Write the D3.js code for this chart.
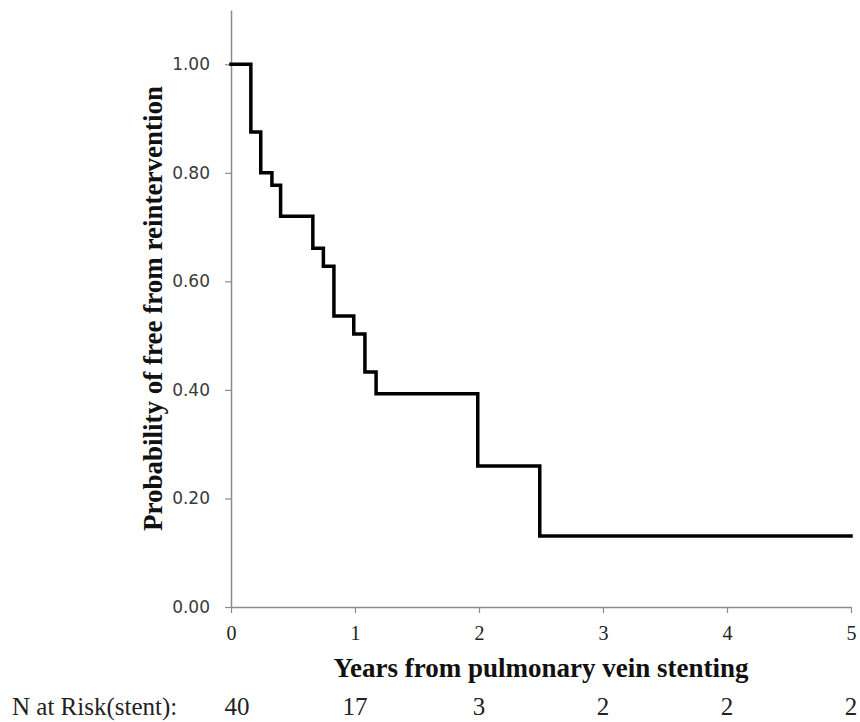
<!DOCTYPE html>
<html>
<head>
<meta charset="utf-8">
<script src="https://cdn.jsdelivr.net/npm/d3@7/dist/d3.min.js"></script>
<style>
  html, body { margin: 0; padding: 0; background: #fff; }
  svg { display: block; }
</style>
</head>
<body>
<svg id="chart" width="860" height="722"></svg>
<script>
// Kaplan-Meier step data (time in years, survival probability)
const stepTimes = [0, 0.16, 0.24, 0.33, 0.40, 0.66, 0.745, 0.83, 0.99, 1.08, 1.17, 1.99, 2.49, 5];
const stepValues = [1.00, 0.875, 0.80, 0.777, 0.72, 0.661, 0.628, 0.536, 0.503, 0.433, 0.393, 0.260, 0.131, 0.131];
const xTicks = [0, 1, 2, 3, 4, 5];
const yTicks = [0, 0.2, 0.4, 0.6, 0.8, 1.0];
const atRiskTimes = [0, 1, 2, 3, 4, 5];
const atRiskCounts = [40, 17, 3, 2, 2, 2];
const xTitle = "Years from pulmonary vein stenting";
const yTitle = "Probability of free from reintervention";
const atRiskLabel = "N at Risk(stent):";

const SERIF = "Liberation Serif";
const svg = d3.select("#chart");
const x = d3.scaleLinear().domain([0, 5]).range([231, 851]);
const y = d3.scaleLinear().domain([0, 1.1]).range([607, 10]);

const axisColor = "#8c8c8c";

// Y axis
const yAxis = svg.append("g").attr("transform", `translate(${x(0)},0)`)
  .call(d3.axisLeft(y).tickValues(yTicks).tickSize(6).tickSizeOuter(0).tickFormat(d3.format(".2f")));
yAxis.attr("font-family", "DejaVu Sans").attr("font-size", 17);
yAxis.select(".domain").attr("stroke", axisColor).attr("stroke-width", 1.5);
yAxis.selectAll(".tick line").attr("stroke", axisColor).attr("stroke-width", 1.2);
yAxis.selectAll(".tick text")
  .attr("x", -21)
  .attr("fill", "#3a3a3a");

// X axis
const xAxis = svg.append("g").attr("transform", `translate(0,${y(0)})`)
  .call(d3.axisBottom(x).tickValues(xTicks).tickSize(6).tickSizeOuter(0).tickFormat(d3.format("d")));
xAxis.attr("font-family", SERIF).attr("font-size", 20);
xAxis.select(".domain").attr("stroke", axisColor).attr("stroke-width", 1.5);
xAxis.selectAll(".tick line").attr("stroke", axisColor).attr("stroke-width", 1.2);
xAxis.selectAll(".tick text")
  .attr("y", 19)
  .attr("fill", "#222");

// Step line
const pts = stepTimes.map((t, i) => [t, stepValues[i]]);
const line = d3.line().x(d => x(d[0])).y(d => y(d[1])).curve(d3.curveStepAfter);
svg.append("path")
  .datum(pts)
  .attr("d", line)
  .attr("fill", "none")
  .attr("stroke", "#000")
  .attr("stroke-width", 3.5)
  .attr("stroke-linejoin", "miter")
  .attr("stroke-linecap", "square");

// Axis titles
svg.append("text")
  .attr("x", (x(0) + x(5)) / 2)
  .attr("y", 677)
  .attr("text-anchor", "middle")
  .attr("font-family", SERIF)
  .attr("font-weight", "bold")
  .attr("font-size", 27)
  .attr("fill", "#111")
  .text(xTitle);

svg.append("text")
  .attr("transform", `translate(162,${(y(0) + y(1.1)) / 2}) rotate(-90)`)
  .attr("text-anchor", "middle")
  .attr("font-family", SERIF)
  .attr("font-weight", "bold")
  .attr("font-size", 27)
  .attr("fill", "#111")
  .text(yTitle);

// Number at risk row
const risk = svg.append("g").attr("font-family", SERIF).attr("font-size", 25).attr("fill", "#222");
risk.append("text")
  .attr("x", 12)
  .attr("y", 715)
  .text(atRiskLabel);

risk.selectAll("text.risk")
  .data(atRiskTimes)
  .enter().append("text")
  .attr("class", "risk")
  .attr("x", (d, i) => x(d) + (i === 0 ? 6 : 0))
  .attr("y", 715)
  .attr("text-anchor", "middle")
  .text((d, i) => atRiskCounts[i]);
</script>
</body>
</html>
